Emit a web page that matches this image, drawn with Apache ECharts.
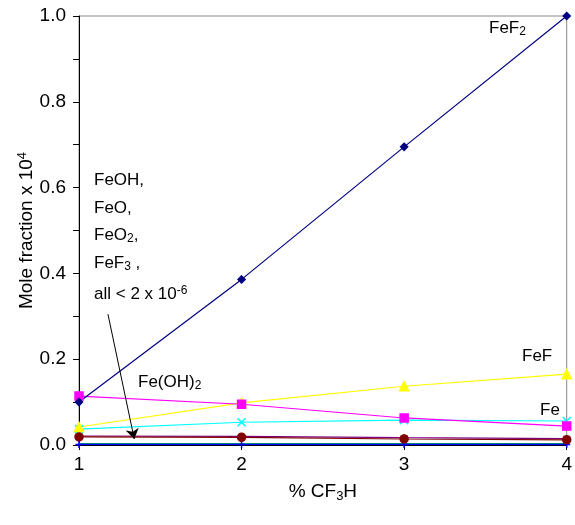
<!DOCTYPE html>
<html>
<head>
<meta charset="utf-8">
<script src="https://cdn.jsdelivr.net/npm/echarts@6/dist/echarts.min.js"></script>
<style>
  html, body { margin: 0; padding: 0; background: #fff; }
  #chart { width: 575px; height: 525px; }
</style>
</head>
<body>
<div id="chart"></div>
<script>
  // % CF3H on the x axis
  const cf3h = [1, 2, 3, 4];
  // mole fractions x 10^4
  const feF2 = [0.10, 0.386, 0.695, 1.0];
  const feOH2 = [0.114, 0.095, 0.063, 0.044];
  const feF = [0.042, 0.098, 0.137, 0.165];
  const fe = [0.037, 0.053, 0.058, 0.056];
  const darkRed = [0.019, 0.018, 0.014, 0.012];
  const purple = [0.021, 0.020, 0.017, 0.015];
  const teal = [0.003, 0.003, 0.003, 0.003];
  const blue = [0.001, 0.001, 0.001, 0.001];
  const yTicks = [0.0, 0.2, 0.4, 0.6, 0.8, 1.0];

  const FONT = "Liberation Sans, Arial, sans-serif";
  const CROSS = "path://M0,0L10,10M10,0L0,10";
  const PLUS = "path://M5,0L5,10M0,5L10,5";
  const STAR = "path://M5,0L5,10M0,2L10,8M10,2L0,8";

  const pairs = (ys) => cf3h.map((x, i) => [x, ys[i]]);

  function line(name, ys, color, symbol, size, extra) {
    return Object.assign({
      name,
      type: "line",
      data: pairs(ys),
      symbol,
      symbolSize: size,
      showSymbol: true,
      animation: false,
      lineStyle: { color, width: 1.2 },
      itemStyle: { color, borderColor: color, borderWidth: 1.5 },
    }, extra || {});
  }

  const rich = {
    n: { fontFamily: FONT, fontSize: 17, color: "#000" },
    sub: { fontFamily: FONT, fontSize: 12, color: "#000", verticalAlign: "bottom", padding: [7, 0, 0, 0] },
    sup: { fontFamily: FONT, fontSize: 12, color: "#000", verticalAlign: "top", padding: [0, 0, 7, 0] },
  };

  function note(left, top, text) {
    return { type: "text", left, top, style: { text, rich, font: "17px " + FONT, fill: "#000" } };
  }

  const chart = echarts.init(document.getElementById("chart"));
  chart.setOption({
    backgroundColor: "#fff",
    grid: { left: 79, right: 7, top: 16, bottom: 80, show: true, borderColor: "#888", borderWidth: 1 },
    xAxis: {
      type: "value", min: 1, max: 4, interval: 1,
      axisLine: { lineStyle: { color: "#000" } },
      axisTick: { show: true, inside: false, length: 5, lineStyle: { color: "#000" } },
      splitLine: { show: false },
      axisLabel: { color: "#000", fontFamily: FONT, fontSize: 19, margin: 10 },
      name: "{n|% CF}{sub|3}{n|H}",
      nameLocation: "middle",
      nameGap: 36,
      nameTextStyle: { rich: { n: { fontFamily: FONT, fontSize: 19, color: "#000" }, sub: { fontFamily: FONT, fontSize: 13, color: "#000", padding: [9, 0, 0, 0] } } },
    },
    yAxis: {
      type: "value", min: 0, max: 1, interval: 0.1,
      axisLine: { show: true, lineStyle: { color: "#000" } },
      axisTick: { show: true, length: 6, lineStyle: { color: "#000" } },
      splitLine: { show: false },
      axisLabel: {
        color: "#000", fontFamily: FONT, fontSize: 19, margin: 13,
        formatter: (v) => {
          const hit = yTicks.find((t) => Math.abs(t - v) < 1e-6);
          return hit === undefined ? "" : hit.toFixed(1);
        },
      },
      name: "{n|Mole fraction x 10}{sup|4}",
      nameLocation: "middle",
      nameRotate: 90,
      nameGap: 41,
      nameMoveOverlap: false,
      nameTextStyle: { rich: { n: { fontFamily: FONT, fontSize: 19, color: "#000" }, sup: { fontFamily: FONT, fontSize: 13, color: "#000", padding: [0, 0, 9, 0] } } },
    },
    series: [
      line("teal", teal, "#008080", "none", 0),
      line("FeO etc", blue, "#0000ff", PLUS, 7),
      line("purple", purple, "#800080", STAR, 7),
      line("dark red", darkRed, "#800000", "circle", 8),
      line("Fe", fe, "#00ffff", CROSS, 8),
      line("FeF", feF, "#ffff00", "triangle", 9),
      line("Fe(OH)2", feOH2, "#ff00ff", "rect", 8),
      line("FeF2", feF2, "#000080", "diamond", 7, {
        markLine: {
          silent: true,
          symbol: ["none", "arrow"],
          symbolSize: 10,
          lineStyle: { color: "#000", width: 1, type: "solid" },
          label: { show: false },
          data: [[{ coord: [1.178, 0.305] }, { coord: [1.34, 0.014] }]],
        },
      }),
    ],
    graphic: [
      note(489, 20, "{n|FeF}{sub|2}"),
      note(522, 348, "{n|FeF}"),
      note(540, 402, "{n|Fe}"),
      note(138, 374, "{n|Fe(OH)}{sub|2}"),
      note(94, 172, "{n|FeOH,}"),
      note(94, 200, "{n|FeO,}"),
      note(94, 227, "{n|FeO}{sub|2}{n|,}"),
      note(94, 255, "{n|FeF}{sub|3}{n| ,}"),
      note(94, 285, "{n|all < 2 x 10}{sup|-6}"),
    ],
  });
</script>
</body>
</html>
